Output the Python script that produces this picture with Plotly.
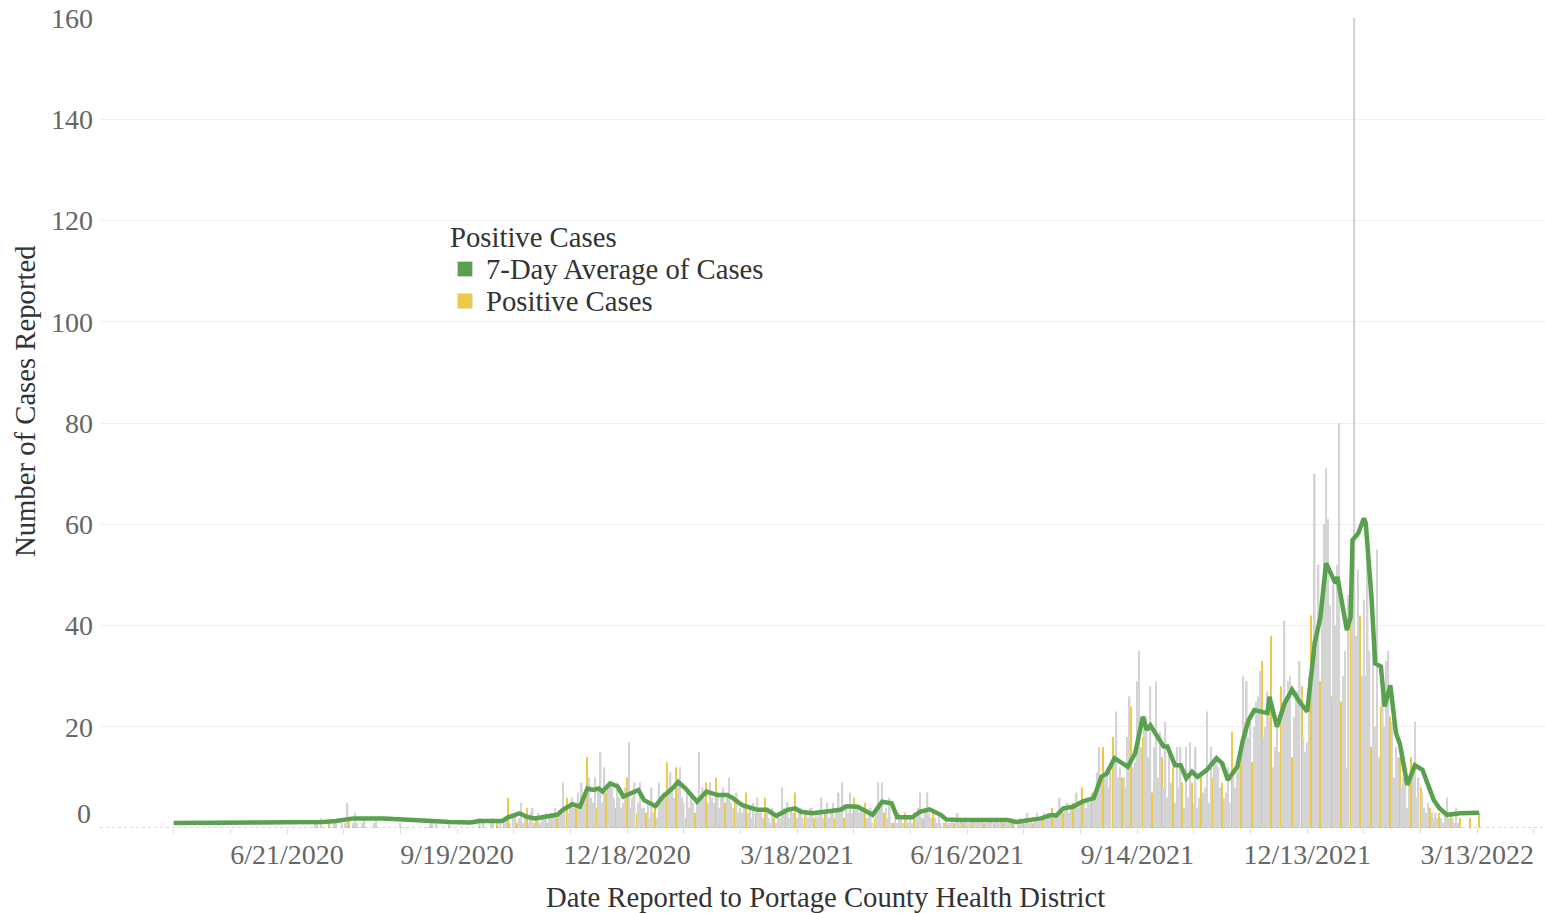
import pandas as pd
import plotly.graph_objects as go

# ---------------- data ----------------
START_DATE = "2020-04-22"   # first day of the daily series

daily_cases = (
    [0] * 70 +
    [0,0,0,0,0,1,1,0,2,0, 0,0,1,0,0,1,1,0,0,1, 0,1,5,2,0,1,3,1,0,0] +          # d70-99
    [1,2,0,0,0,0,1,2,0,0, 0,0,0,0,0,0,0,0,0,0, 1,0,0,0,0,0,0,0,0,0] +          # d100-129
    [0,0,0,0,0,0,1,1,0,1, 0,0,0,0,0,0,1,0,0,0, 0,0,0,0,0,0,0,0,0,0] +          # d130-159
    [0,0,2,0,1,0,0,0,1,2, 0,1,0,1,0,1,2,6,1,0, 2,3,1,2,5,1,2,4,1,3] +          # d160-189
    [4,1,2,3,1,2,2,3,1,2, 3,2,4,2,3,3,9,4,6,3, 5,6,4,5,7,4,9,6,7,14] +         # d190-219
    [10,6,5,10,4,8,15,5,12,7, 8,9,8,6,4,9,6,4,5,8, 10,17,4,6,9,3,5,9,4,4] +    # d220-249
    [3,5,2,8,3,4,2,9,5,7, 6,13,8,11,7,6,12,9,12,6, 5,2,7,4,7,5,3,5,15,6] +     # d250-279
    [8,6,9,5,9,6,5,10,7,4, 6,8,5,6,10,5,4,6,7,3, 4,3,4,7,3,4,2,5,3,6] +        # d280-309
    [3,4,2,6,3,2,1,4,2,1, 3,2,8,4,3,5,2,4,3,7, 2,3,4,2,3,3,2,4,4,2] +          # d310-339
    [3,2,3,6,2,3,5,2,3,5, 2,3,7,3,9,2,4,3,7,3, 6,4,4,3,4,3,5,2,3,4] +          # d340-369
    [1,2,3,9,4,9,3,4,2,6, 1,1,2,1,3,2,1,3,2,1, 2,1,3,2,4,7,2,2,3,7] +          # d370-399
    [3,2,3,2,1,3,1,0,1,2, 1,1,2,1,2,3,1,2,1,2, 1,1,2,1,2,1,2,1,2,1] +          # d400-429
    [1,2,1,2,1,1,2,1,2,1, 2,1,1,2,1,1,0,1,2,1, 1,2,3,1,2,1,2,3,2,2] +          # d430-459
    [2,3,2,3,2,4,2,3,2,6, 4,3,4,5,3,4,5,4,7,4, 5,8,5,4,6,5,7,6,6,11] +         # d460-489
    [16,9,16,10,12,8,11,18,14,23, 10,12,10,10,8,18,26,24,12,13,
     29,35,16,18,20,22,14,28,7,16] +                                           # d490-519
    [29,10,19,14,8,21,6,16,9,12, 5,16,8,16,9,4,16,6,17,9,
     5,16,4,6,11,7,8,23,5,16] +                                                # d520-549
    [10,14,13,12,8,9,6,7,12,5, 19,10,8,11,14,14,30,21,29,18,
     22,13,20,25,26,31,33,18,20,27] +                                          # d550-579
    [22,38,12,16,20,15,28,24,41,25, 29,30,14,22,26,27,33,28,18,15,
     17,30,42,37,70,35,52,29,45,60] +                                          # d580-609
    [71,61,44,26,48,40,52,80,25,30, 35,12,46,40,42,165,38,51,42,30,
     45,30,55,35,16,40,20,55,14,24] +                                          # d610-639
    [30,20,33,35,22,21,10,16,14,14, 8,10,12,4,9,14,12,21,6,10,
     8,7,4,3,5,4,3,2,3,2] +                                                    # d640-669
    [3,2,1,3,6,2,3,2,1,4, 1,2,0,0,0,0,2,0,0,0, 0,3]                            # d670-691
)

# 7-day average line: day offset from START_DATE and value
avg_day_offset = [0, 74, 79, 86, 92, 95, 111, 120, 137, 146, 157, 162, 174, 177, 183, 187,
                  191, 203, 206, 211, 215, 219, 222, 225, 227, 231, 235, 238, 242, 246, 249,
                  255, 259, 264, 267, 271, 277, 282, 288, 293, 296, 301, 309, 314, 319, 325,
                  329, 332, 338, 346, 353, 356, 362, 365, 370, 375, 380, 383, 391, 395, 400,
                  406, 409, 416, 423, 441, 446, 459, 465, 467, 471, 476, 481, 487, 491, 494,
                  498, 502, 505, 509, 513, 515, 517, 524, 526, 530, 533, 536, 539, 542, 547,
                  552, 555, 558, 563, 566, 569, 572, 576, 579, 580, 584, 588, 592, 596, 600,
                  604, 607, 610, 615, 616, 621, 623, 624, 627, 630, 631, 634, 636, 639, 641,
                  644, 647, 649, 653, 657, 661, 667, 670, 674, 681, 691]
avg_cases = [1.0, 1.0, 1.2, 1.4, 1.7, 1.9, 1.9, 1.8, 1.4, 1.2, 1.1, 1.4, 1.4, 2.1, 2.9, 2.2,
             1.9, 2.6, 3.6, 4.7, 4.2, 7.8, 7.5, 7.8, 7.2, 8.8, 8.2, 6.2, 6.9, 7.5, 5.5,
             4.3, 6.2, 7.8, 9.1, 7.8, 5.2, 7.2, 6.5, 6.5, 5.9, 4.5, 3.6, 3.6, 2.4, 3.6,
             3.9, 3.2, 2.9, 3.2, 3.6, 4.3, 4.2, 3.6, 2.6, 5.2, 4.9, 2.1, 2.1, 3.2, 3.7,
             2.6, 1.7, 1.6, 1.6, 1.6, 1.2, 1.9, 2.6, 2.4, 3.9, 4.2, 5.2, 5.9, 10.1, 10.8,
             13.8, 12.8, 12.1, 14.8, 22.0, 19.4, 20.3, 16.1, 16.1, 12.4, 12.4, 9.8, 11.1, 10.1, 11.5,
             13.8, 12.8, 9.5, 12.1, 17.4, 21.3, 23.3, 23.0, 22.7, 25.9, 20.0, 24.6, 27.3, 24.9, 23.0,
             36.5, 41.7, 52.3, 48.3, 49.6, 39.1, 41.7, 56.9, 58.2, 61.2, 60.2, 45.7, 32.5, 31.9, 24.0,
             28.2, 18.7, 16.7, 8.5, 12.4, 11.5, 5.5, 3.9, 2.6, 2.9, 3.0]

x_tick_dates = ["2020-06-21", "2020-09-19", "2020-12-18", "2021-03-18",
                "2021-06-16", "2021-09-14", "2021-12-13", "2022-03-13"]
x_tick_labels = ["6/21/2020", "9/19/2020", "12/18/2020", "3/18/2021",
                 "6/16/2021", "9/14/2021", "12/13/2021", "3/13/2022"]
y_tick_values = [20, 40, 60, 80, 100, 120, 140, 160]
legend_title = "Positive Cases"
line_name = "7-Day Average of Cases"
bar_name = "Positive Cases"
x_title = "Date Reported to Portage County Health District"
y_title = "Number of Cases Reported"

# ---------------- styling ----------------
GREEN = "#59A14F"
YELLOW = "#EDC948"
GRAY = "#D4D4D4"
FONT = "Liberation Serif"
DAY_MS = 86400000
W, H = 1545, 913
ML, MR, MT, MB = 100, 0, 18, 85
PW, PH = W - ML - MR, H - MT - MB


def px_x(px):   # page pixel -> paper x
    return (px - ML) / PW


def px_y(py):   # page pixel -> paper y
    return (H - MB - py) / PH


dates = pd.date_range(START_DATE, periods=len(daily_cases), freq="D")
avg_dates = pd.Timestamp(START_DATE) + pd.to_timedelta(avg_day_offset, unit="D")

# highlighted (yellow) bars recur roughly every 5.25 days in the picture
yellow_idx = {int(176.55 + 5.2531 * k + 0.5) for k in range(-34, 99)}
bar_colors = [YELLOW if i in yellow_idx else GRAY for i in range(len(daily_cases))]
bar_widths = [0.55 * DAY_MS if i in yellow_idx else 0.85 * DAY_MS for i in range(len(daily_cases))]

minor_ticks = pd.date_range(START_DATE, "2022-04-15", freq="30D")

fig = go.Figure()
fig.add_trace(go.Bar(x=dates, y=daily_cases, width=bar_widths,
                     marker=dict(color=bar_colors, line=dict(width=0)),
                     name=bar_name, showlegend=False))
fig.add_trace(go.Scatter(x=avg_dates, y=avg_cases, mode="lines",
                         line=dict(color=GREEN, width=4.5),
                         name=line_name, showlegend=False))

tick_font = dict(family=FONT, size=28, color="#666666")
text_font = dict(family=FONT, size=28.7, color="#333333")

# legend (drawn to match the reference's compact spacing)
legend_items = [(line_name, GREEN, 269), (bar_name, YELLOW, 301)]
shapes = [dict(type="line", xref="paper", x0=0, x1=1, yref="y", y0=0, y1=0,
               line=dict(color="#aaaaaa", width=1, dash="dot"), layer="above")]
annotations = [
    dict(text="0", xref="paper", x=0, yref="y", y=0, xanchor="right", yanchor="middle",
         xshift=-7, yshift=15, showarrow=False, font=tick_font),
    dict(text=y_title, xref="paper", x=px_x(25), yref="paper", y=px_y(401), textangle=-90,
         xanchor="center", yanchor="middle", showarrow=False, font=text_font),
    dict(text=x_title, xref="paper", x=px_x(825), yref="paper", y=px_y(897),
         xanchor="center", yanchor="middle", showarrow=False, font=text_font),
    dict(text=legend_title, xref="paper", x=px_x(448), yref="paper", y=px_y(237),
         xanchor="left", yanchor="middle", showarrow=False, font=text_font),
]
for name, color, cy in legend_items:
    shapes.append(dict(type="rect", xref="paper", yref="paper",
                       x0=px_x(457.5), x1=px_x(472.5), y0=px_y(cy - 7.5), y1=px_y(cy + 7.5),
                       fillcolor=color, line=dict(width=0.6, color="#dddddd")))
    annotations.append(dict(text=name, xref="paper", x=px_x(484), yref="paper", y=px_y(cy),
                            xanchor="left", yanchor="middle", showarrow=False, font=text_font))

fig.update_layout(
    width=W, height=H,
    margin=dict(l=ML, r=MR, t=MT, b=MB),
    paper_bgcolor="white", plot_bgcolor="white",
    font=text_font,
    showlegend=False,
    xaxis=dict(type="date", range=["2020-03-14", "2022-04-17 21:00"],
               tickvals=x_tick_dates, ticktext=x_tick_labels,
               ticks="outside", ticklen=5, tickcolor="#dddddd", tickwidth=1,
               ticklabelstandoff=-4,
               tickfont=tick_font, showgrid=False, zeroline=False, showline=False,
               minor=dict(tickvals=list(minor_ticks), ticks="outside",
                          ticklen=5, tickcolor="#dddddd", showgrid=False)),
    yaxis=dict(range=[0, 160], tickvals=y_tick_values, ticks="",
               tickfont=tick_font, showgrid=True, gridcolor="#efefef", gridwidth=1,
               zeroline=False, showline=False, ticklabelstandoff=6),
    shapes=shapes,
    annotations=annotations,
)

fig.write_html("out.html", config={"displayModeBar": False},
               post_script="document.body.style.margin='0';")
